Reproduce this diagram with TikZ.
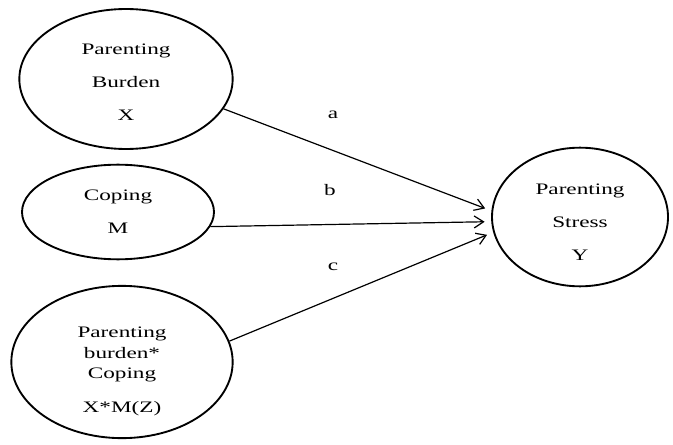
\documentclass[tikz,border=0pt]{standalone}
\usepackage{fontspec}
\setmainfont{Liberation Serif}[FakeStretch=1.45]
\usepackage{tikz}
\usetikzlibrary{arrows.meta,shapes.geometric}

\begin{document}
\begin{tikzpicture}[x=0.75pt,y=-0.75pt,font=\fontsize{12}{24.75}\selectfont,
  varnode/.style={draw,ellipse,line width=1.4pt,inner sep=0pt,align=center},
  effect/.style={-{Straight Barb[length=7pt,width=9pt]},line width=0.9pt,shorten >=5pt}]
\useasboundingbox (0,0) rectangle (673,445);

% predictors
\node[varnode,minimum width=160pt,minimum height=105pt] (X) at (126,79) {\rule{0pt}{13pt}Parenting\\Burden\\X};
\node[varnode,minimum width=144pt,minimum height=71pt] (M) at (118,212) {Coping\\M};
\node[varnode,minimum width=166pt,minimum height=109pt,font=\fontsize{12}{15.4}\selectfont]
  (XM) at (122,362) {\rule{0pt}{22pt}Parenting\\burden*\\Coping\\[10pt]X*M(Z)};

% outcome
\node[varnode,minimum width=132pt,minimum height=104pt] (Y) at (580,217) {\rule{0pt}{15pt}Parenting\\Stress\\Y};

% paths
\draw[effect] (X.-17) -- (Y.176);
\draw[effect] (M.-9) -- (Y.183);
\draw[effect] (XM.11) -- (Y.190);

\node (la) at (333,115) {a};
\node (lb) at (330,190) {b};
\node (lc) at (333,267) {c};

\end{tikzpicture}
\end{document}
